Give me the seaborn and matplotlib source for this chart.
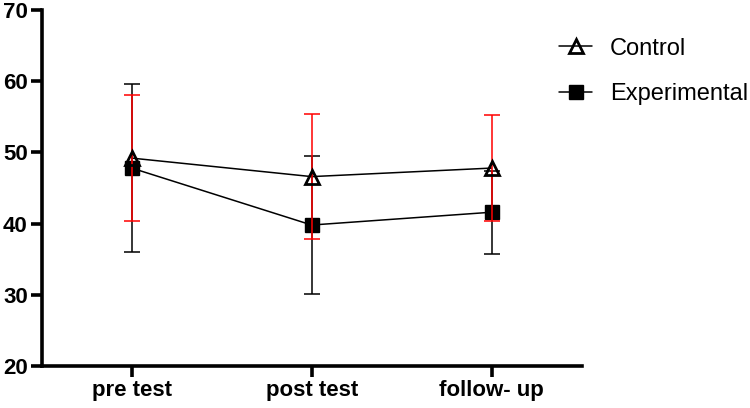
import numpy as np
import pandas as pd
import matplotlib
matplotlib.use('Agg')
import matplotlib.pyplot as plt
import seaborn as sns
from matplotlib.lines import Line2D

# ── Data ──────────────────────────────────────────────────────────────────────
phases = ['pre test', 'post test', 'follow- up']
control_mean = [49.2, 46.6, 47.8]
control_sd = [8.9, 8.75, 7.4]
experimental_mean = [47.8, 39.8, 41.6]
experimental_sd = [11.8, 9.65, 5.85]

df = pd.DataFrame({
    'phase': phases * 2,
    'score': control_mean + experimental_mean,
    'group': ['Control'] * 3 + ['Experimental'] * 3,
})

sns.set_style('ticks')
plt.rcParams['font.family'] = ['Liberation Sans', 'DejaVu Sans']
plt.rcParams['text.color'] = 'black'

fig, ax = plt.subplots(figsize=(7.5, 4.08), dpi=100)
fig.subplots_adjust(left=0.0556, right=0.7756, top=0.9755, bottom=0.1029)

# lines through the means
sns.lineplot(data=df[df['group'] == 'Control'], x='phase', y='score', ax=ax,
             color='black', linewidth=1.1, zorder=3, legend=False)
sns.lineplot(data=df[df['group'] == 'Experimental'], x='phase', y='score', ax=ax,
             color='black', linewidth=1.1, zorder=3, legend=False)

xpos = np.arange(len(phases))

# error bars: black for experimental, red for control
ax.errorbar(xpos, experimental_mean, yerr=experimental_sd, fmt='none',
            ecolor='black', elinewidth=1.1, capsize=5.8, capthick=1.1, zorder=2)
ax.plot(xpos, experimental_mean, linestyle='none', marker='s', markersize=10.5,
        color='black', zorder=4)
ax.errorbar(xpos, control_mean, yerr=control_sd, fmt='none',
            ecolor='red', elinewidth=1.1, capsize=5.8, capthick=1.1, zorder=5)
ax.plot(xpos, control_mean, linestyle='none', marker='^', markersize=10.5,
        markerfacecolor='none', markeredgecolor='black', markeredgewidth=2,
        zorder=6)

ax.set_xlim(-0.5, 2.5)
ax.set_ylim(20, 70)
ax.set_yticks([20, 30, 40, 50, 60, 70])
ax.set_xticks(xpos)
ax.set_xticklabels(phases)
ax.set_xlabel('')
ax.set_ylabel('')

for side in ['top', 'right']:
    ax.spines[side].set_visible(False)
for side in ['left', 'bottom']:
    ax.spines[side].set_linewidth(2.6)
    ax.spines[side].set_color('black')

ax.tick_params(axis='both', width=2.6, length=8, color='black', pad=2)
for lab in ax.get_xticklabels() + ax.get_yticklabels():
    lab.set_fontweight('bold')
    lab.set_fontsize(16)
    lab.set_color('black')

handles = [
    Line2D([0], [0], color='black', linewidth=1.1, marker='^', markersize=10.5,
           markerfacecolor='none', markeredgewidth=2),
    Line2D([0], [0], color='black', linewidth=1.1, marker='s', markersize=10.5),
]
leg = fig.legend(handles, ['Control', 'Experimental'], loc='upper left',
                 bbox_to_anchor=(0.717, 0.96), frameon=False, fontsize=17,
                 handlelength=1.4, handletextpad=0.75, labelspacing=1.0)
for t in leg.get_texts():
    t.set_color('black')

plt.savefig('out.png', dpi=100)
plt.close()
